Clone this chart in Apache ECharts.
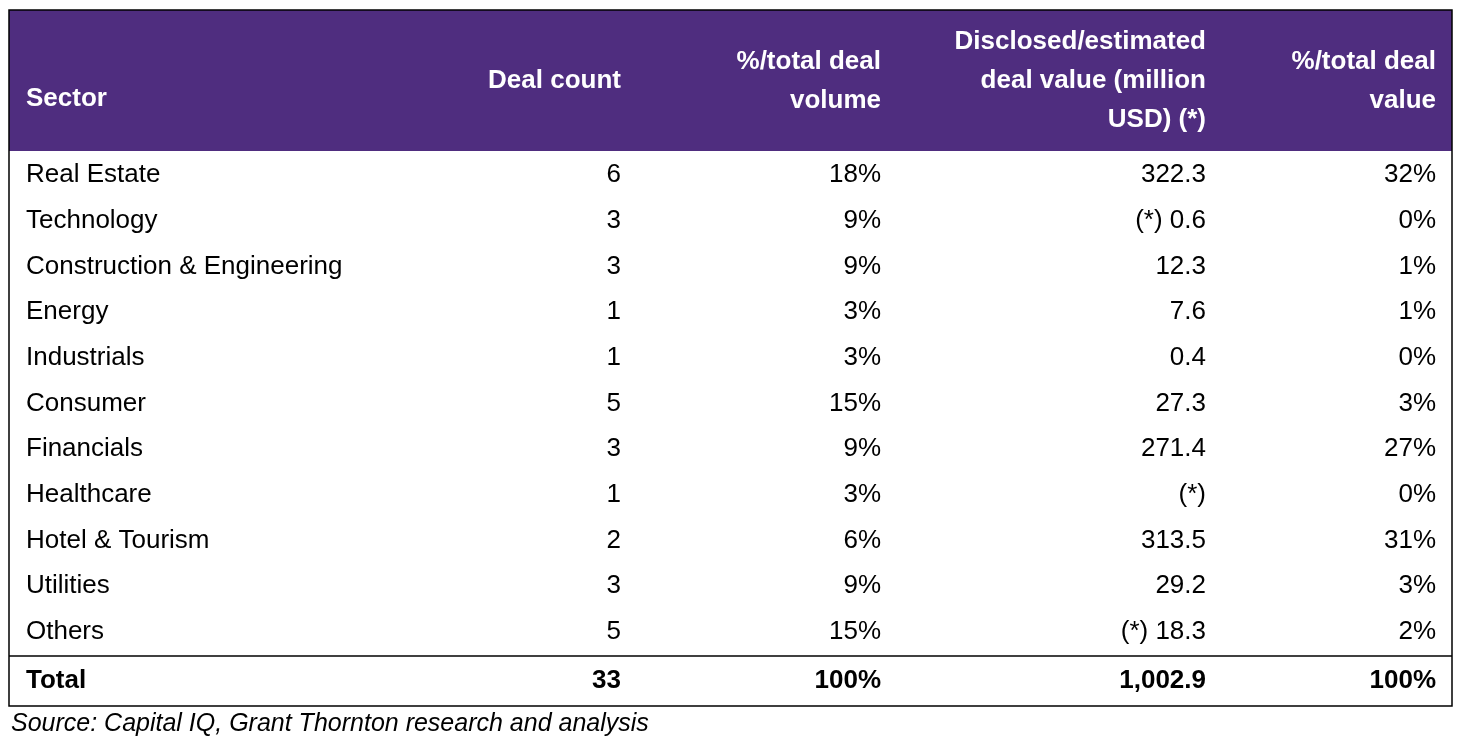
<!DOCTYPE html>
<html>
<head>
<meta charset="utf-8">
<script src="https://cdn.jsdelivr.net/npm/echarts@6/dist/echarts.min.js"></script>
<style>html,body{margin:0;padding:0;background:#fff}#main{width:1464px;height:747px}</style>
</head>
<body>
<div id="main"></div>
<script>
var headers = ['Sector', 'Deal count', '%/total deal\nvolume', 'Disclosed/estimated\ndeal value (million\nUSD) (*)', '%/total deal\nvalue'];
var sectors = ['Real Estate', 'Technology', 'Construction & Engineering', 'Energy', 'Industrials', 'Consumer', 'Financials', 'Healthcare', 'Hotel & Tourism', 'Utilities', 'Others'];
var dealCount = ['6', '3', '3', '1', '1', '5', '3', '1', '2', '3', '5'];
var pctVolume = ['18%', '9%', '9%', '3%', '3%', '15%', '9%', '3%', '6%', '9%', '15%'];
var dealValue = ['322.3', '(*) 0.6', '12.3', '7.6', '0.4', '27.3', '271.4', '(*)', '313.5', '29.2', '(*) 18.3'];
var pctValue = ['32%', '0%', '1%', '1%', '0%', '3%', '27%', '0%', '31%', '3%', '2%'];
var totalRow = ['Total', '33', '100%', '1,002.9', '100%'];
var source = 'Source: Capital IQ, Grant Thornton research and analysis';

var colX = [26, 621, 881, 1206, 1436];
var font = '"Liberation Sans", Arial, sans-serif';
var els = [];

// header band and borders
els.push({type: 'rect', shape: {x: 9, y: 10, width: 1443, height: 141}, style: {fill: '#4f2d7f'}});
els.push({type: 'rect', shape: {x: 9, y: 10, width: 1443, height: 696}, style: {fill: 'none', stroke: '#000', lineWidth: 1.5}});
els.push({type: 'line', shape: {x1: 9, y1: 656, x2: 1452, y2: 656}, style: {stroke: '#000', lineWidth: 1.5}});

headers.forEach(function (h, i) {
    els.push({type: 'text', x: colX[i], y: i === 0 ? 99 : 81, style: {
        text: h, fill: '#fff', font: 'bold 26px ' + font, lineHeight: 39,
        align: i === 0 ? 'left' : 'right', verticalAlign: 'middle'
    }});
});

var cols = [sectors, dealCount, pctVolume, dealValue, pctValue];
sectors.forEach(function (s, r) {
    var y = 175 + r * 45.7;
    cols.forEach(function (c, i) {
        els.push({type: 'text', x: colX[i], y: y, style: {
            text: c[r], fill: '#000', font: '26px ' + font,
            align: i === 0 ? 'left' : 'right', verticalAlign: 'middle'
        }});
    });
});

totalRow.forEach(function (t, i) {
    els.push({type: 'text', x: colX[i], y: 681, style: {
        text: t, fill: '#000', font: 'bold 26px ' + font,
        align: i === 0 ? 'left' : 'right', verticalAlign: 'middle'
    }});
});

els.push({type: 'text', x: 11, y: 724, style: {
    text: source, fill: '#000', font: 'italic 25px ' + font, align: 'left', verticalAlign: 'middle'
}});

var myChart = echarts.init(document.getElementById('main'));
myChart.setOption({animation: false, graphic: els});
</script>
</body>
</html>
